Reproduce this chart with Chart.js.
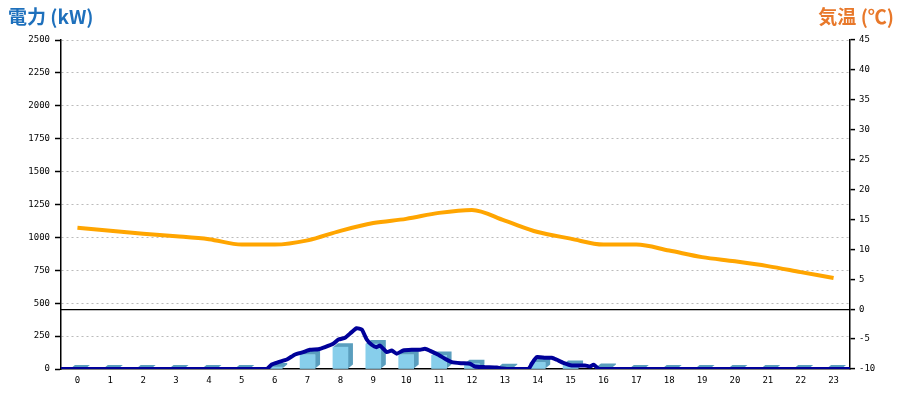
<!DOCTYPE html>
<html>
<head>
<meta charset="utf-8">
<script src="https://cdn.jsdelivr.net/npm/chart.js@4"></script>
<style>
  html, body { margin: 0; padding: 0; background: #fff; }
  #wrap { position: relative; width: 900px; height: 400px; }
  canvas { position: absolute; left: 0; top: 0; }
  .ttl { position: absolute; top: 4px; font-family: "Noto Sans CJK JP", "Noto Sans", sans-serif; font-weight: bold; font-size: 19px; line-height: 24px; white-space: nowrap; }
  #tl { left: 8px; color: #1E70BC; }
  #tr { right: 6px; color: #E8782A; }
</style>
</head>
<body>
<div id="wrap">
  <canvas id="c" width="900" height="400"></canvas>
  <div class="ttl" id="tl">電力 (kW)</div>
  <div class="ttl" id="tr">気温 (℃)</div>
</div>
<script>
// Hour categories
const hours = ["0","1","2","3","4","5","6","7","8","9","10","11","12","13","14","15","16","17","18","19","20","21","22","23"];
// Hourly power (kW) – bars
const hourlyKW = [0,0,0,0,0,0,15,108,166,190,108,103,40,10,50,35,12,0,0,0,0,0,0,0];
// Detailed power (kW) – time in hours and value
const powerHours = [0,6.26,6.41,6.61,6.87,7.12,7.37,7.57,7.83,8.03,8.28,8.44,8.64,8.84,8.99,9.15,9.30,9.45,9.60,9.70,9.91,10.06,10.21,10.41,10.67,10.92,11.07,11.23,11.48,11.68,11.89,12.19,12.44,12.59,12.90,13.26,13.41,13.56,14.22,14.32,14.47,14.72,14.93,15.08,15.28,15.54,15.94,16.09,16.20,16.35,16.45,24];
const powerKW    = [0,0,34,52,72,110,128,146,150,166,191,224,237,280,310,300,224,184,166,179,128,141,116,141,146,146,154,138,108,78,52,44,40,19,14,11,4,0,0,40,90,85,85,70,47,27,27,19,32,2,0,0];
// Hourly temperature (°C)
const tempC = [13.6,13.1,12.6,12.2,11.7,10.8,10.8,11.5,13.1,14.4,15.1,16.1,16.6,14.8,12.9,11.8,10.8,10.8,9.8,8.7,8.0,7.2,6.2,5.2];
// Axis ranges / ticks
const kwMin = 0, kwMax = 2500, kwStep = 250;
const tMin = -10, tMax = 45, tStep = 5;

const powerPts = powerHours.map((h, i) => ({ x: h, y: powerKW[i] }));
const tempPts = tempC.map((v, i) => ({ x: i + 0.5, y: v }));

const tickFont = { family: "DejaVu Sans Mono", size: 9 };

const bar3d = {
  id: 'bar3d',
  beforeDatasetsDraw(chart) {
    const meta = chart.getDatasetMeta(2);
    const ctx = chart.ctx;
    const dx = 5, dy = 4;
    ctx.save();
    ctx.fillStyle = '#5A9EBE';
    meta.data.forEach(el => {
      const p = el.getProps(['x', 'y', 'base', 'width'], true);
      const l = p.x - p.width / 2, r = p.x + p.width / 2;
      ctx.beginPath();
      ctx.moveTo(r, p.base);
      ctx.lineTo(r, p.y);
      ctx.lineTo(l, p.y);
      ctx.lineTo(l + dx, p.y - dy);
      ctx.lineTo(r + dx, p.y - dy);
      ctx.lineTo(r + dx, p.base - dy);
      ctx.closePath();
      ctx.fill();
    });
    ctx.restore();
  }
};

new Chart(document.getElementById('c'), {
  type: 'bar',
  data: {
    labels: hours,
    datasets: [
      {
        type: 'line', label: '電力', data: powerPts, xAxisID: 'xt', yAxisID: 'y',
        borderColor: '#000099', borderWidth: 4, pointRadius: 0, tension: 0.15,
        borderJoinStyle: 'round', order: 0
      },
      {
        type: 'line', label: '気温', data: tempPts, xAxisID: 'xt', yAxisID: 'y2',
        borderColor: '#FFA500', borderWidth: 4, pointRadius: 0,
        cubicInterpolationMode: 'monotone', order: 1
      },
      {
        type: 'bar', label: '電力(時間)', data: hourlyKW, xAxisID: 'x', yAxisID: 'y',
        backgroundColor: '#87CEEB', borderWidth: 0, grouped: false,
        barThickness: 15, maxBarThickness: 15, order: 2
      }
    ]
  },
  options: {
    responsive: false,
    animation: false,
    devicePixelRatio: 1,
    layout: { padding: { top: 40, left: 0, right: 0, bottom: 0 } },
    plugins: { legend: { display: false }, tooltip: { enabled: false }, title: { display: false } },
    scales: {
      x: {
        type: 'category', position: 'bottom', offset: true,
        grid: { display: true, drawOnChartArea: false, drawTicks: false },
        border: { display: true, color: '#000', width: 1.5 },
        ticks: { font: tickFont, color: '#000', padding: 6, maxRotation: 0, autoSkip: false },
        afterFit(s) { s.height = 31; }
      },
      xt: {
        type: 'linear', position: 'bottom', display: false, min: 0, max: 24,
        offset: false, grid: { offset: false }
      },
      y: {
        type: 'linear', position: 'left', min: kwMin, max: kwMax,
        ticks: { stepSize: kwStep, font: tickFont, color: '#000', padding: 5, callback: v => String(v) },
        grid: {
          color: c => (c.tick && c.tick.value === 0) ? 'rgba(0,0,0,0)' : '#BBBBBB',
          lineWidth: 1, drawTicks: true, tickLength: 6, tickColor: '#000', tickWidth: 1.5
        },
        border: { display: true, color: '#000', width: 1.5, dash: [2, 3] },
        afterFit(s) { s.width = 61; }
      },
      y2: {
        type: 'linear', position: 'right', min: tMin, max: tMax,
        ticks: { stepSize: tStep, font: tickFont, color: '#000', padding: 4, callback: v => String(v) },
        grid: {
          color: c => (c.tick && c.tick.value === 0) ? '#000' : 'rgba(0,0,0,0)',
          lineWidth: 1.2, drawTicks: true, tickLength: 5, tickColor: '#000', tickWidth: 1.5
        },
        border: { display: true, color: '#000', width: 1.5 },
        afterFit(s) { s.width = 50; }
      }
    }
  },
  plugins: [bar3d]
});
</script>
</body>
</html>
